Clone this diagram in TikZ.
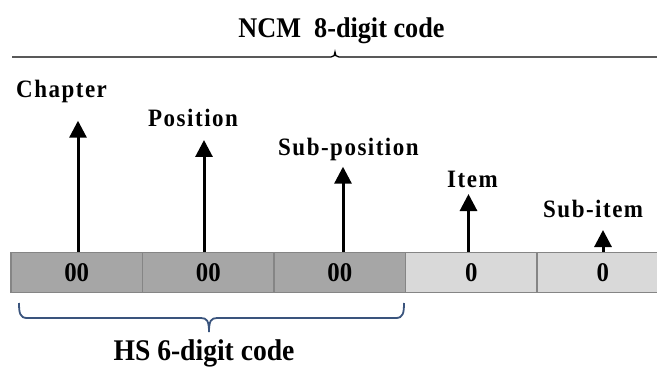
\documentclass[tikz,border=0pt]{standalone}
\usepackage{fontspec}
\setmainfont{Liberation Serif}[FakeStretch=0.92]
\newfontfamily\lblfont{Liberation Serif}[FakeStretch=0.92,LetterSpace=6]
\usetikzlibrary{arrows.meta}
\definecolor{darkcell}{HTML}{A6A6A6}
\definecolor{lightcell}{HTML}{D9D9D9}
\definecolor{cellborder}{HTML}{858585}
\definecolor{bracecol}{RGB}{58,84,125}
\tikzset{
  cell/.style={draw=cellborder, line width=1.5pt, minimum width=131.5pt, minimum height=40pt, inner sep=0pt,
    font=\bfseries\fontsize{27}{30}\selectfont},
  darkbox/.style={cell, fill=darkcell},
  lightbox/.style={cell, fill=lightcell},
  lbl/.style={anchor=base west, inner sep=0pt, font=\lblfont\bfseries\fontsize{25}{29}\selectfont},
  ttl/.style={anchor=base, inner sep=0pt, font=\bfseries\fontsize{28.5}{33}\selectfont},
  uparrow/.style={line width=3pt, -{Triangle[width=17pt,length=17pt]}},
}
\begin{document}
\begin{tikzpicture}[x=1pt,y=-1pt]
\useasboundingbox (0,0) rectangle (657,369);
\clip (0,0) rectangle (657,369);
% title and top brace
\node[ttl] (ncm) at (341.5,37.7) {NCM\ \ 8-digit code};
\draw[line width=1.3pt] (12,57) -- (331,57) .. controls (334,57) and (335,55) .. (335,52)
  .. controls (335,55) and (336,57) .. (339,57) -- (662,57);
% cells
\node[darkbox] (b1) at (76.75,272.5) {00};
\node[darkbox] (b2) at (208.25,272.5) {00};
\node[darkbox] (b3) at (339.75,272.5) {00};
\node[lightbox] (b4) at (471.25,272.5) {0};
\node[lightbox] (b5) at (602.75,272.5) {0};
% labels
\node[lbl] (chap) at (16,98) {Chapter};
\node[lbl] (pos) at (148,126.7) {Position};
\node[lbl] (subpos) at (278,155) {Sub-position};
\node[lbl] (item) at (447,187) {Item};
\node[lbl] (subitem) at (543,217) {Sub-item};
% arrow tips
\coordinate (t1) at (78,120.7);
\coordinate (t2) at (204,140);
\coordinate (t3) at (343,166.7);
\coordinate (t4) at (468.5,194);
\coordinate (t5) at (603,230);
\draw[uparrow] (b1.north -| t1) -- (t1);
\draw[uparrow] (b2.north -| t2) -- (t2);
\draw[uparrow] (b3.north -| t3) -- (t3);
\draw[uparrow] (b4.north -| t4) -- (t4);
\draw[uparrow] (b5.north -| t5) -- (t5);
% bottom brace
\draw[bracecol, line width=1.8pt] (19,303) .. controls (19,313) and (20,318) .. (27,318) -- (201,318)
  .. controls (207,318) and (209,321) .. (209,332) .. controls (209,321) and (211,318) .. (217,318)
  -- (396,318) .. controls (403,318) and (404,313) .. (404,303);
\node[ttl, font=\bfseries\fontsize{30}{34}\selectfont] (hs) at (204,360) {HS 6-digit code};
\end{tikzpicture}
\end{document}
